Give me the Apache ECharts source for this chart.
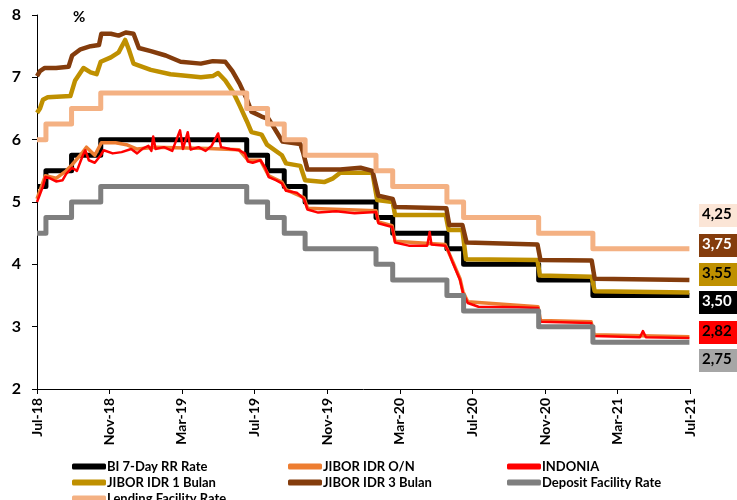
<!DOCTYPE html>
<html>
<head>
<meta charset="utf-8">
<script src="https://cdn.jsdelivr.net/npm/echarts@6/dist/echarts.min.js"></script>
<style>
html,body{margin:0;padding:0;background:#fff;}
#chart{width:737px;height:500px;}
</style>
</head>
<body>
<div id="chart"></div>
<script>
// ---- Data ----
const tickDates = ['2018-07-31','2018-11-30','2019-03-31','2019-07-31','2019-11-30','2020-03-31','2020-07-31','2020-11-30','2021-03-31','2021-07-31'];
const tickLabels = ['Jul-18','Nov-18','Mar-19','Jul-19','Nov-19','Mar-20','Jul-20','Nov-20','Mar-21','Jul-21'];

const stepDates = ['2018-07-31','2018-08-15','2018-09-27','2018-11-15','2019-07-18','2019-08-22','2019-09-19','2019-10-24','2020-02-20','2020-03-19','2020-06-18','2020-07-16','2020-11-19','2021-02-18','2021-07-30'];
const biRate = [5.25,5.50,5.75,6.00,5.75,5.50,5.25,5.00,4.75,4.50,4.25,4.00,3.75,3.50,3.50];
const dfRate = [4.50,4.75,5.00,5.25,5.00,4.75,4.50,4.25,4.00,3.75,3.50,3.25,3.00,2.75,2.75];
const lfRate = [6.00,6.25,6.50,6.75,6.50,6.25,6.00,5.75,5.50,5.25,5.00,4.75,4.50,4.25,4.25];

const jiborON = [['2018-07-31',5.05],['2018-08-14',5.42],['2018-09-01',5.38],['2018-09-18',5.50],['2018-09-28',5.60],['2018-10-16',5.80],['2018-10-22',5.88],['2018-11-05',5.75],['2018-11-16',5.95],['2018-12-10',5.95],['2018-12-28',5.92],['2019-01-15',5.85],['2019-02-15',5.88],['2019-03-20',5.87],['2019-05-15',5.86],['2019-07-05',5.84],['2019-07-20',5.67],['2019-08-10',5.67],['2019-08-24',5.42],['2019-09-15',5.32],['2019-09-22',5.20],['2019-10-22',5.07],['2019-10-28',4.90],['2020-02-20',4.86],['2020-02-24',4.68],['2020-03-18',4.62],['2020-03-23',4.37],['2020-06-15',4.32],['2020-06-28',4.04],['2020-07-10',3.77],['2020-07-15',3.56],['2020-07-23',3.40],['2020-11-18',3.32],['2020-11-22',3.10],['2021-02-15',3.08],['2021-02-20',2.87],['2021-07-30',2.84]];

const indonia = [['2018-07-31',5.00],['2018-08-04',5.10],['2018-08-10',5.25],['2018-08-14',5.40],['2018-08-22',5.38],['2018-09-01',5.33],['2018-09-12',5.35],['2018-09-18',5.45],['2018-09-28',5.55],['2018-10-06',5.50],['2018-10-16',5.75],['2018-10-20',5.83],['2018-10-26',5.67],['2018-11-05',5.63],['2018-11-15',5.75],['2018-11-20',5.83],['2018-12-05',5.78],['2018-12-20',5.80],['2019-01-05',5.85],['2019-01-15',5.78],['2019-01-25',5.86],['2019-02-03',5.90],['2019-02-08',5.82],['2019-02-11',6.05],['2019-02-15',5.85],['2019-03-01',5.88],['2019-03-15',5.82],['2019-03-28',6.15],['2019-04-02',5.85],['2019-04-10',6.12],['2019-04-15',5.84],['2019-04-28',5.88],['2019-05-10',5.82],['2019-05-20',5.90],['2019-05-31',6.10],['2019-06-05',5.88],['2019-06-20',5.85],['2019-07-05',5.83],['2019-07-15',5.78],['2019-07-20',5.65],['2019-07-28',5.63],['2019-08-10',5.67],['2019-08-18',5.55],['2019-08-24',5.40],['2019-09-05',5.35],['2019-09-15',5.30],['2019-09-22',5.18],['2019-10-10',5.15],['2019-10-22',5.05],['2019-10-28',4.88],['2019-11-15',4.83],['2019-12-15',4.85],['2020-01-15',4.82],['2020-02-20',4.84],['2020-02-24',4.66],['2020-03-18',4.60],['2020-03-23',4.35],['2020-04-15',4.30],['2020-05-16',4.30],['2020-05-20',4.52],['2020-05-23',4.32],['2020-06-15',4.30],['2020-06-20',4.22],['2020-06-28',4.02],['2020-07-10',3.75],['2020-07-15',3.54],['2020-07-23',3.38],['2020-08-10',3.32],['2020-10-15',3.31],['2020-11-18',3.30],['2020-11-22',3.08],['2021-02-15',3.06],['2021-02-20',2.85],['2021-05-08',2.83],['2021-05-13',2.93],['2021-05-18',2.83],['2021-07-30',2.82]];

const jibor1M = [['2018-07-31',6.43],['2018-08-05',6.50],['2018-08-10',6.64],['2018-08-18',6.68],['2018-09-25',6.70],['2018-10-03',6.95],['2018-10-17',7.15],['2018-10-29',7.08],['2018-11-08',7.05],['2018-11-15',7.25],['2018-12-02',7.32],['2018-12-15',7.40],['2018-12-26',7.60],['2019-01-01',7.45],['2019-01-09',7.22],['2019-02-07',7.12],['2019-03-12',7.05],['2019-05-02',7.00],['2019-05-22',7.02],['2019-05-31',7.07],['2019-06-12',6.95],['2019-06-26',6.75],['2019-07-06',6.55],['2019-07-18',6.30],['2019-07-26',6.12],['2019-08-12',6.08],['2019-08-21',5.92],['2019-09-15',5.75],['2019-09-22',5.62],['2019-10-16',5.58],['2019-10-24',5.35],['2019-11-25',5.32],['2019-12-10',5.38],['2019-12-22',5.47],['2020-02-14',5.47],['2020-02-22',5.03],['2020-03-19',5.00],['2020-03-23',4.79],['2020-06-16',4.79],['2020-06-21',4.55],['2020-07-14',4.55],['2020-07-20',4.08],['2020-11-17',4.07],['2020-11-21',3.82],['2021-02-16',3.80],['2021-02-21',3.57],['2021-07-30',3.55]];

const jibor3M = [['2018-07-31',7.02],['2018-08-05',7.10],['2018-08-13',7.15],['2018-09-01',7.15],['2018-09-22',7.17],['2018-09-28',7.35],['2018-10-12',7.45],['2018-10-29',7.50],['2018-11-12',7.52],['2018-11-16',7.70],['2018-12-02',7.70],['2018-12-15',7.67],['2018-12-27',7.72],['2019-01-09',7.70],['2019-01-18',7.47],['2019-02-07',7.42],['2019-03-04',7.35],['2019-03-29',7.25],['2019-05-02',7.22],['2019-05-22',7.26],['2019-06-12',7.25],['2019-06-24',7.10],['2019-07-06',6.90],['2019-07-18',6.65],['2019-07-26',6.45],['2019-08-12',6.37],['2019-08-24',6.33],['2019-09-16',5.97],['2019-10-16',5.93],['2019-10-21',5.78],['2019-10-28',5.52],['2019-12-22',5.52],['2020-01-25',5.55],['2020-02-14',5.50],['2020-02-24',5.10],['2020-03-19',5.05],['2020-03-23',4.92],['2020-06-17',4.90],['2020-06-22',4.63],['2020-07-14',4.63],['2020-07-21',4.35],['2020-11-17',4.32],['2020-11-22',4.07],['2021-02-16',4.06],['2021-02-21',3.77],['2021-07-30',3.75]];

const seriesNames = ['BI 7-Day RR Rate','JIBOR IDR O/N','INDONIA','JIBOR IDR 1 Bulan','JIBOR IDR 3 Bulan','Deposit Facility Rate','Lending Facility Rate'];
const colors = ['#000000','#ED7D31','#FF0000','#BF9000','#843C0C','#7F7F7F','#F4B183'];

// ---- Build (x = days since axis start) ----
const DAY = 86400000;
function utc(s){ const p = s.split('-').map(Number); return Date.UTC(p[0], p[1]-1, p[2]); }
const origin = utc(tickDates[0]);
const dayOf = s => Math.round((utc(s) - origin) / DAY);
const tickX = tickDates.map(dayOf);
const conv = arr => arr.map(p => [dayOf(p[0]), p[1]]);
const pair = (dates, vals) => dates.map((d,i) => [dayOf(d), vals[i]]);
const fmt = v => v.toFixed(2).replace('.', ',');

const font = 'Lato, "Open Sans", sans-serif';
const chart = echarts.init(document.getElementById('chart'));

function mk(i, data, width, step){
  return {
    name: seriesNames[i], type: 'line', data: data, step: step || false,
    showSymbol: false, symbol: 'none', color: colors[i],
    lineStyle: {color: colors[i], width: width, join: 'round'},
    emphasis: {disabled: true}, animation: false
  };
}

const legendBase = {
  orient: 'vertical', itemWidth: 34, itemHeight: 6, itemGap: 3, icon: 'roundRect',
  height: 120, padding: 0,
  textStyle: {fontFamily: font, fontWeight: 'bold', fontSize: 13, color: '#000', padding: [0,0,0,-4]},
  itemStyle: {borderWidth: 0},
  top: 460, selectedMode: false
};

const lastVals = [
  {v: lfRate[lfRate.length-1], bg: '#FBE5D6', fg: '#000', top: 204},
  {v: jibor3M[jibor3M.length-1][1], bg: '#843C0C', fg: '#fff', top: 234},
  {v: jibor1M[jibor1M.length-1][1], bg: '#BF9000', fg: '#000', top: 263},
  {v: biRate[biRate.length-1], bg: '#000000', fg: '#fff', top: 291},
  {v: indonia[indonia.length-1][1], bg: '#FF0000', fg: '#000', top: 321},
  {v: dfRate[dfRate.length-1], bg: '#A6A6A6', fg: '#000', top: 349}
];
const graphics = [];
lastVals.forEach(o => {
  graphics.push({type:'rect', left: 699, top: o.top, shape:{width: 40, height: 23}, style:{fill: o.bg}, z: 10});
  graphics.push({type:'text', left: 702, top: o.top + 3, style:{text: fmt(o.v), fill: o.fg, font: 'bold 15px ' + font}, z: 11});
});
graphics.push({type:'text', left: 73, top: 10, style:{text:'%', fill:'#000', font:'bold 15px ' + font}});

chart.setOption({
  backgroundColor: '#fff',
  animation: false,
  grid: {left: 37, right: 47, top: 15, bottom: 111, containLabel: false},
  xAxis: {
    type: 'value', min: tickX[0], max: tickX[tickX.length-1],
    axisLine: {show: true, lineStyle: {color: '#000', width: 1}},
    axisTick: {show: true, customValues: tickX, length: 5, inside: false, lineStyle:{color:'#000'}},
    splitLine: {show: false},
    axisLabel: {
      customValues: tickX, rotate: 90, margin: 9,
      fontFamily: font, fontWeight: 'bold', fontSize: 14, color: '#000',
      formatter: function(v){
        let best = 0, bd = Infinity;
        tickX.forEach((t,i) => { const d = Math.abs(t - v); if (d < bd){bd = d; best = i;} });
        return tickLabels[best];
      }
    }
  },
  yAxis: {
    type: 'value', min: 2, max: 8, interval: 1,
    axisLine: {show: true, lineStyle: {color: '#000', width: 1}},
    axisTick: {show: true, length: 5, lineStyle:{color:'#000'}},
    splitLine: {show: false},
    axisLabel: {margin: 16, fontFamily: font, fontWeight: 'bold', fontSize: 16, color: '#000'}
  },
  legend: [
    Object.assign({}, legendBase, {left: 72, data: [seriesNames[0], seriesNames[3], seriesNames[6]]}),
    Object.assign({}, legendBase, {left: 288, data: [seriesNames[1], seriesNames[4]]}),
    Object.assign({}, legendBase, {left: 507, data: [seriesNames[2], seriesNames[5]]})
  ],
  graphic: graphics,
  series: [
    mk(0, pair(stepDates, biRate), 5, 'end'),
    mk(1, conv(jiborON), 3.5),
    mk(2, conv(indonia), 2.5),
    mk(3, conv(jibor1M), 4.5),
    mk(4, conv(jibor3M), 4.5),
    mk(5, pair(stepDates, dfRate), 5, 'end'),
    mk(6, pair(stepDates, lfRate), 5, 'end')
  ]
});
</script>
</body>
</html>
